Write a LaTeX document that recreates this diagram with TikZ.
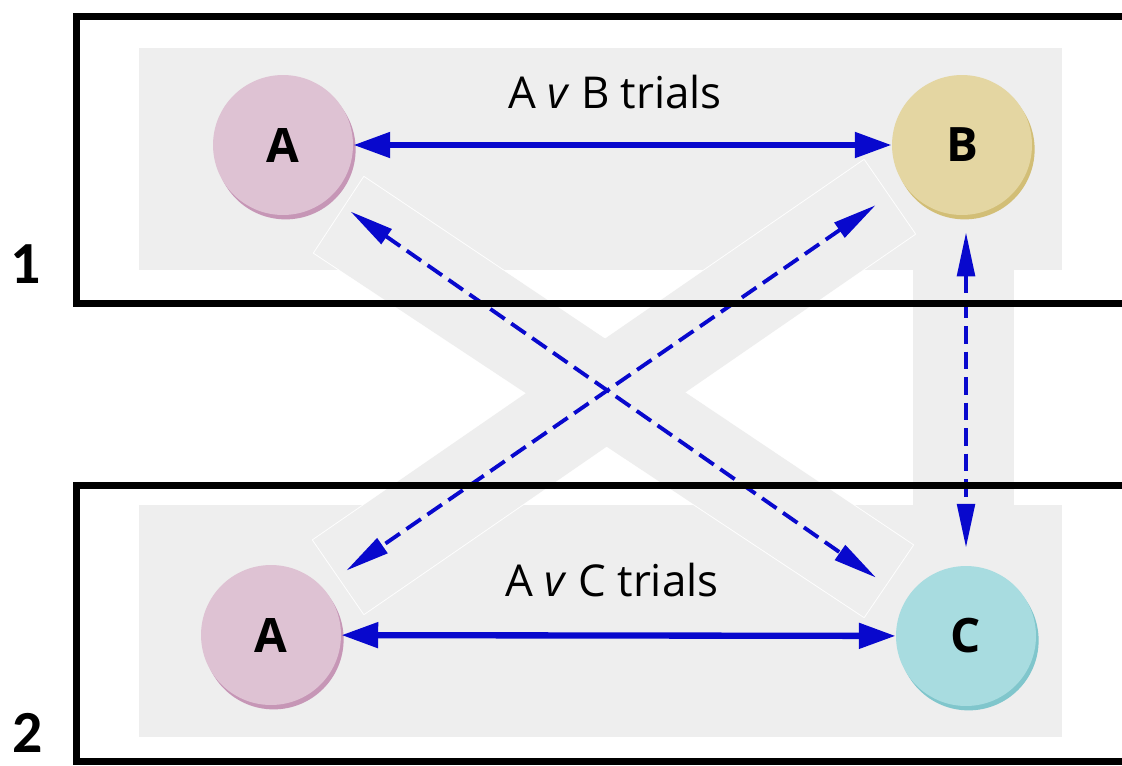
\documentclass[tikz,border=0pt]{standalone}
\usepackage{fontspec}
\setmainfont{Open Sans}
\newfontfamily\numfont{Carlito}
\usetikzlibrary{arrows.meta,shadows}

\definecolor{panelgray}{RGB}{238,238,238}
\definecolor{linkblue}{RGB}{8,8,205}
\definecolor{pinkfill}{RGB}{222,194,211}
\definecolor{pinkshade}{RGB}{198,150,182}
\definecolor{tanfill}{RGB}{228,214,162}
\definecolor{tanshade}{RGB}{210,190,118}
\definecolor{cyanfill}{RGB}{168,220,224}
\definecolor{cyanshade}{RGB}{128,198,204}

\begin{document}
\begin{tikzpicture}[x=0.02cm,y=-0.02cm]
	\clip (0,0) rectangle (1122,765);
	\fill[white] (0,0) rectangle (1122,765);
	% light panels and the bands behind the links
	\fill[panelgray] (139,48) rectangle (1062,270);
	\fill[panelgray] (139,505) rectangle (1062,737);
	\draw[white, line width=1pt] (314,253) -- (364,177) -- (913,545) -- (864,617) -- cycle;
	\draw[white, line width=1pt] (864,160) -- (915,234) -- (364,614) -- (313,540) -- cycle;
	\fill[panelgray] (314,253) -- (364,177) -- (913,545) -- (864,617) -- cycle;
	\fill[panelgray] (864,160) -- (915,234) -- (364,614) -- (313,540) -- cycle;
	\fill[panelgray] (913,262) rectangle (1014,512);
	\begin{scope}[every node/.style={circle, minimum size=2.8cm, inner sep=0pt, font=\bfseries\fontsize{27}{27}\selectfont}]
		\node[fill=pinkfill, general shadow={fill=pinkshade, shadow xshift=1.5pt, shadow yshift=-2.5pt}] (a1) at (283,145) {A};
		\node[fill=tanfill, general shadow={fill=tanshade, shadow xshift=1.5pt, shadow yshift=-2.5pt}] (b1) at (962,145) {B};
		\node[fill=pinkfill, general shadow={fill=pinkshade, shadow xshift=1.5pt, shadow yshift=-2.5pt}] (a2) at (271,635) {A};
		\node[fill=cyanfill, general shadow={fill=cyanshade, shadow xshift=1.5pt, shadow yshift=-2.5pt}] (c2) at (966,636) {C};
	\end{scope}
	\begin{scope}[every edge/.style={draw=linkblue, line width=3.6pt, {Triangle[length=21pt,width=14pt]}-{Triangle[length=21pt,width=14pt]}}]
		\path (a1) edge (b1);
		\path (a2) edge (c2);
	\end{scope}
	\begin{scope}[every edge/.style={draw=linkblue, line width=2.2pt, dash pattern=on 10pt off 4.5pt, {Triangle[length=25pt,width=10pt]}-{Triangle[length=25pt,width=10pt]}}]
		\path (a1.-48) edge[shorten <=0.5cm, shorten >=0.74cm] (c2.148);
		\path (b1.215) edge[shorten <=0.7cm, shorten >=0.58cm] (a2.43);
		\path (b1.south -| c2) edge[shorten <=0.34cm, shorten >=0.36cm] (c2.north);
	\end{scope}
	\node[font=\fontsize{25}{25}\selectfont] (t1) at (615,92) {A \textit{v} B trials};
	\node[font=\fontsize{25}{25}\selectfont] (t2) at (612,580) {A \textit{v} C trials};
	\node[font=\numfont\bfseries\fontsize{34}{34}\selectfont] (n1) at (26,264) {1};
	\node[font=\numfont\bfseries\fontsize{34}{34}\selectfont] (n2) at (28,733) {2};
	\draw[line width=0.14cm] (76,16) rectangle (1140,303);
	\draw[line width=0.14cm] (76,485) rectangle (1140,761);
\end{tikzpicture}
\end{document}
